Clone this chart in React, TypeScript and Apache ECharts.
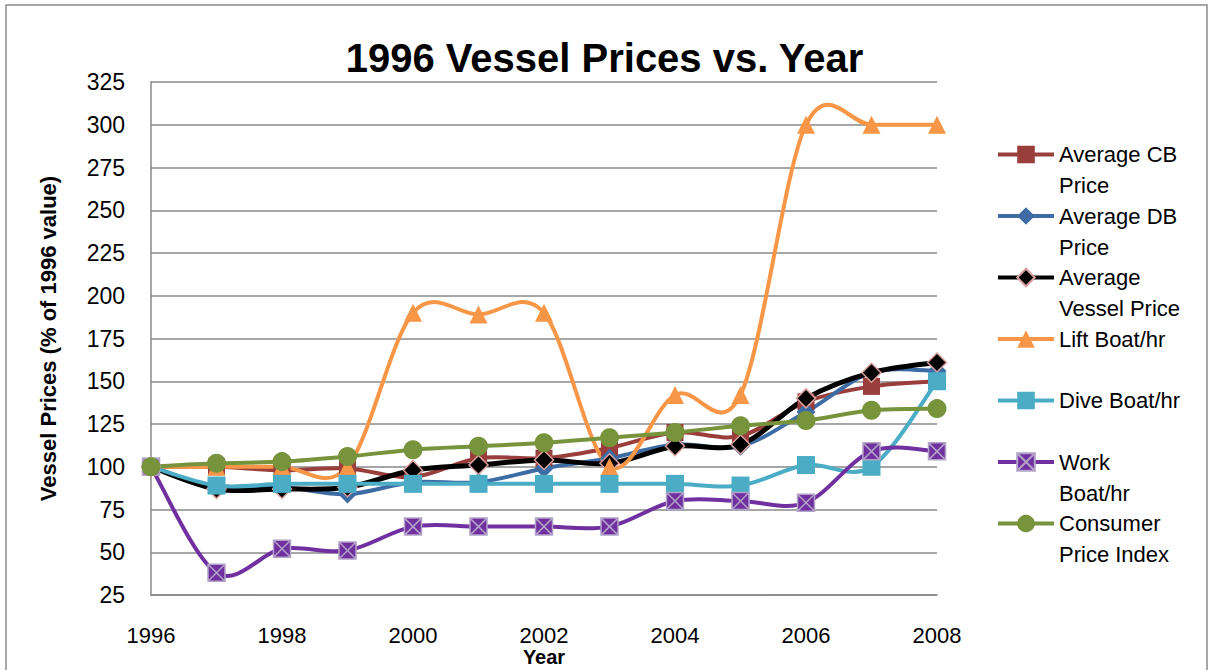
import React, { useEffect, useRef } from 'react';
import * as echarts from 'echarts';

const years = [1996, 1997, 1998, 1999, 2000, 2001, 2002, 2003, 2004, 2005, 2006, 2007, 2008];
const avgCB = [100, 100, 98, 99, 94, 105, 105, 111, 120, 118, 138, 147, 150];
const avgDB = [100, 87, 88, 84, 91, 91, 99, 105, 113, 112, 132, 155, 156];
const avgVessel = [100, 87, 87, 88, 98, 101, 104, 102, 112, 113, 140, 155, 161];
const liftBoat = [100, 100, 100, 100, 190, 189, 190, 100, 142, 142, 300, 300, 300];
const diveBoat = [100, 89, 90, 90, 90, 90, 90, 90, 90, 89, 101, 100, 150];
const workBoat = [100, 38, 52, 51, 65, 65, 65, 65, 80, 80, 79, 109, 109];
const cpi = [100, 102, 103, 106, 110, 112, 114, 117, 120, 124, 127, 133, 134];

const seriesNames = [
  'Average CB Price',
  'Average DB Price',
  'Average Vessel Price',
  'Lift Boat/hr',
  'Dive Boat/hr',
  'Work Boat/hr',
  'Consumer Price Index',
];
const legendLines: Record<string, string[]> = {
  'Average CB Price': ['Average CB', 'Price'],
  'Average DB Price': ['Average DB', 'Price'],
  'Average Vessel Price': ['Average', 'Vessel Price'],
  'Lift Boat/hr': ['Lift Boat/hr', ' '],
  'Dive Boat/hr': ['Dive Boat/hr', ' '],
  'Work Boat/hr': ['Work', 'Boat/hr'],
  'Consumer Price Index': ['Consumer', 'Price Index'],
};

const yTicks = { min: 25, max: 325, interval: 25 };
const xTicks = { min: 1996, max: 2008, interval: 2 };

const FONT = 'Liberation Sans';
const XBOX = 'path://M0 0 L10 0 L10 10 L0 10 Z M0 0 L10 10 M10 0 L0 10';

export default function App() {
  const ref = useRef<HTMLDivElement>(null);
  useEffect(() => {
    document.body.style.margin = '0';
    const chart = echarts.init(ref.current!, undefined, { renderer: 'svg' });
    const pairs = (vals: number[]) => years.map((y, i) => [y, vals[i]]);

    // Excel-like smoothed curve (Catmull-Rom segments) drawn through the axes' scales
    const curve = (name: string, vals: number[], color: string, lineWidth: number) => ({
      name: name + ' (curve)',
      type: 'custom',
      data: pairs(vals),
      encode: { x: 0, y: 1 },
      silent: true,
      renderItem: (params: any, api: any) => {
        const i = params.dataIndex;
        const n = years.length;
        if (i >= n - 1) return null;
        const pt = (k: number) => {
          const kk = Math.max(0, Math.min(n - 1, k));
          return api.coord([years[kk], vals[kk]]);
        };
        const p0 = pt(i - 1);
        const p1 = pt(i);
        const p2 = pt(i + 1);
        const p3 = pt(i + 2);
        const t = 1 / 6;
        return {
          type: 'bezierCurve',
          shape: {
            x1: p1[0],
            y1: p1[1],
            x2: p2[0],
            y2: p2[1],
            cpx1: p1[0] + (p2[0] - p0[0]) * t,
            cpy1: p1[1] + (p2[1] - p0[1]) * t,
            cpx2: p2[0] - (p3[0] - p1[0]) * t,
            cpy2: p2[1] - (p3[1] - p1[1]) * t,
          },
          style: { stroke: color, lineWidth, fill: 'none', lineCap: 'round' },
        };
      },
    });

    const markers = (
      name: string,
      vals: number[],
      color: string,
      symbol: string,
      size: number,
      itemStyle: any = {}
    ) => ({
      name,
      type: 'line',
      data: pairs(vals),
      symbol,
      symbolSize: size,
      showSymbol: true,
      lineStyle: { color, width: 0, opacity: 0 },
      itemStyle: { color, opacity: 1, ...itemStyle },
      emphasis: { disabled: true },
    });

    const defs: [string, number[], string, string, number, any, number][] = [
      [seriesNames[0], avgCB, '#993E3B', 'rect', 17, {}, 4],
      [seriesNames[1], avgDB, '#3D6CA5', 'diamond', 19, {}, 4],
      [seriesNames[2], avgVessel, '#000000', 'diamond', 19, { borderColor: '#D9A09E', borderWidth: 1.5 }, 5],
      [seriesNames[3], liftBoat, '#F79646', 'triangle', 18, {}, 4],
      [seriesNames[4], diveBoat, '#4BACC6', 'rect', 18, {}, 4],
      [seriesNames[5], workBoat, '#7030A0', XBOX, 17, { borderColor: '#B3A2C7', borderWidth: 1.5 }, 4],
      [seriesNames[6], cpi, '#77933C', 'circle', 19, {}, 4],
    ];
    const series: any[] = [];
    defs.forEach(([name, vals, color, sym, size, st, lw]) => {
      series.push(curve(name, vals, color, lw));
      series.push(markers(name, vals, color, sym, size, st));
    });

    chart.setOption({
      animation: false,
      backgroundColor: '#ffffff',
      textStyle: { fontFamily: FONT },
      title: {
        text: '1996 Vessel Prices vs. Year',
        left: 'center',
        top: 33,
        textStyle: { fontFamily: FONT, fontSize: 40, fontWeight: 'bold', color: '#000', lineHeight: 40 },
      },
      graphic: [
        {
          type: 'rect',
          shape: { x: 6, y: 5, width: 1201, height: 690 },
          style: { fill: 'none', stroke: '#8C8C8C', lineWidth: 1.5 },
          silent: true,
          z: -10,
        },
      ],
      legend: {
        orient: 'vertical',
        left: 996,
        top: 108,
        padding: 0,
        itemWidth: 56,
        itemHeight: 22,
        itemGap: -31.5,
        data: seriesNames,
        lineStyle: { width: 4, opacity: 1 },
        formatter: (name: string) => [' ', ...legendLines[name]].join('\n'),
        textStyle: { fontFamily: FONT, fontSize: 22, lineHeight: 31, color: '#000' },
      },
      grid: { left: 151, top: 82, right: 272, bottom: 75, containLabel: false, outerBoundsMode: 'none' },
      xAxis: {
        type: 'value',
        ...xTicks,
        name: 'Year',
        nameLocation: 'middle',
        nameGap: 52,
        nameMoveOverlap: false,
        nameTextStyle: { fontFamily: FONT, fontSize: 20, fontWeight: 'bold', color: '#000' },
        axisLine: { show: true, lineStyle: { color: '#888888', width: 1.5 } },
        axisTick: { show: false },
        splitLine: { show: false },
        axisLabel: { fontFamily: FONT, fontSize: 22, color: '#000', margin: 29, formatter: (v: number) => String(v) },
      },
      yAxis: {
        type: 'value',
        ...yTicks,
        name: 'Vessel Prices (% of 1996 value)',
        nameLocation: 'middle',
        nameGap: 92,
        nameMoveOverlap: false,
        nameTextStyle: { fontFamily: FONT, fontSize: 22, fontWeight: 'bold', color: '#000' },
        axisLine: { show: true, lineStyle: { color: '#888888', width: 1.5 } },
        axisTick: { show: false },
        splitLine: { show: true, lineStyle: { color: '#888888', width: 1.5 } },
        axisLabel: { fontFamily: FONT, fontSize: 23, color: '#000', margin: 26 },
      },
      series,
    });
    return () => chart.dispose();
  }, []);
  return <div ref={ref} style={{ width: 1209, height: 670 }} />;
}
